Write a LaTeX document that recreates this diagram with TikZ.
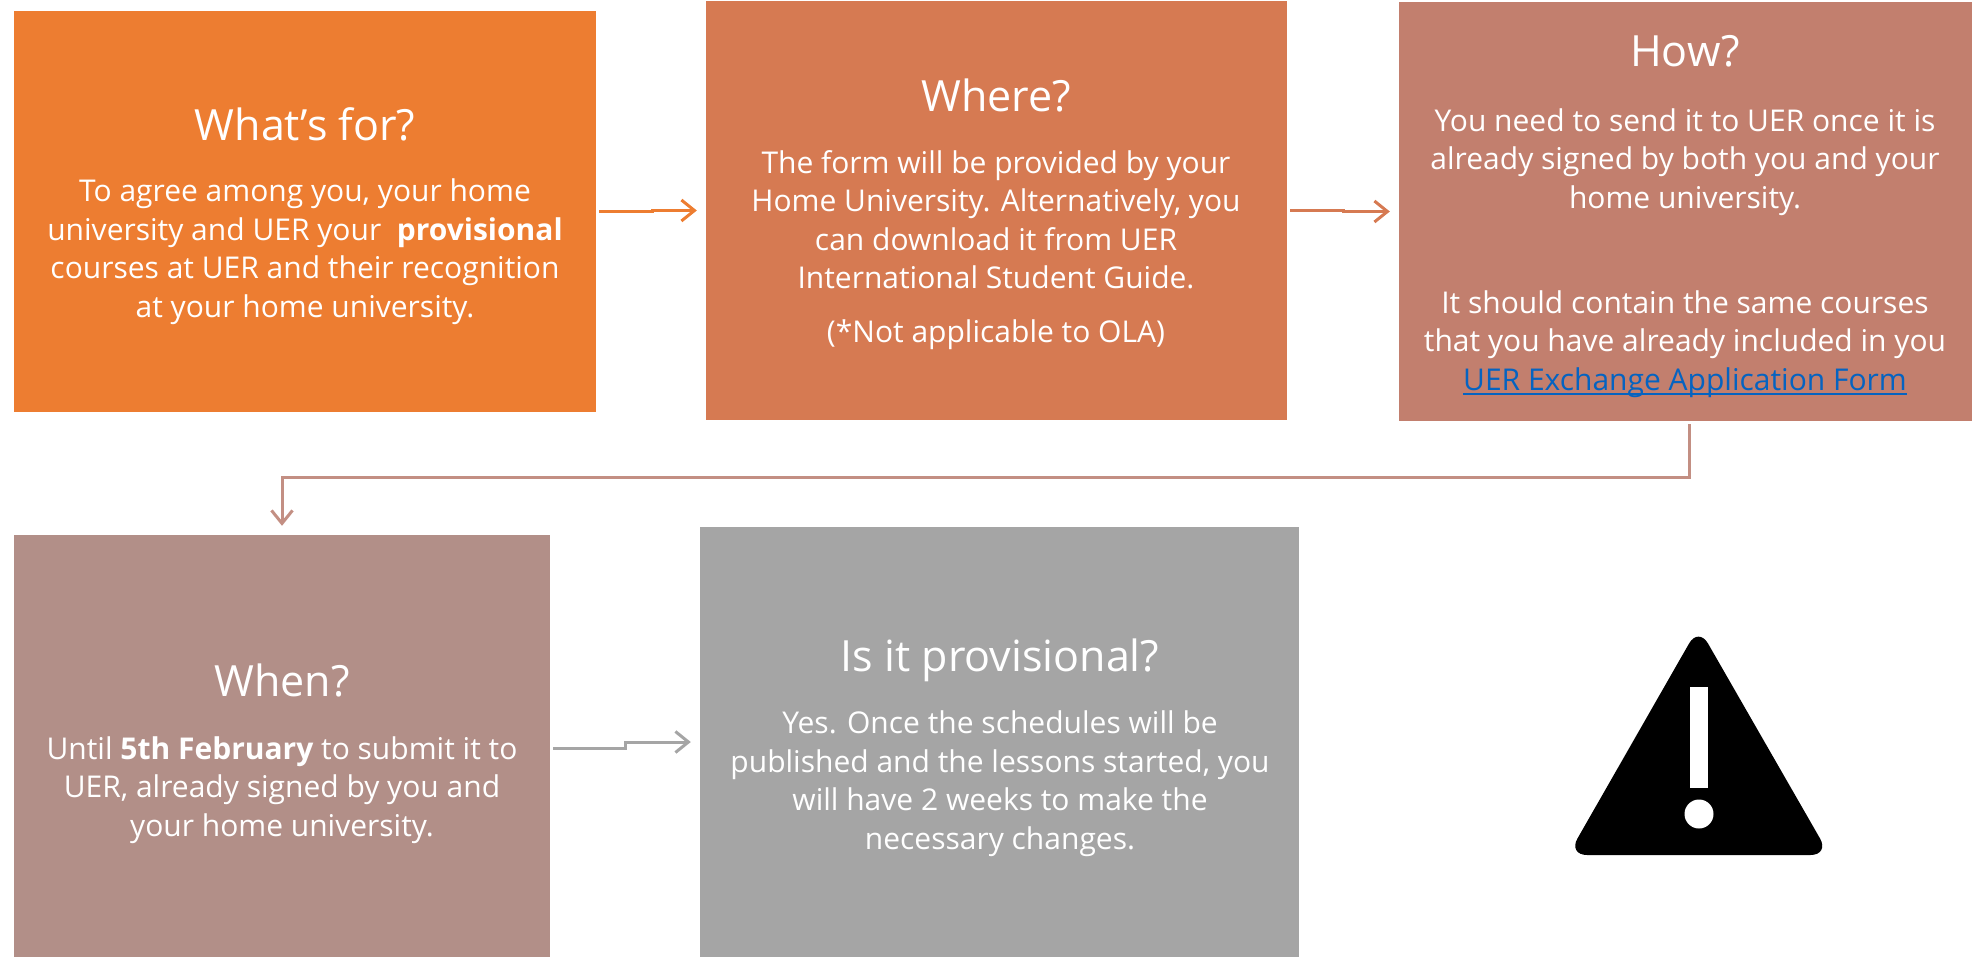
\documentclass[tikz,border=0pt]{standalone}
\usepackage{fontspec}
\usetikzlibrary{arrows.meta}
\setmainfont{Open Sans}
\definecolor{cA}{HTML}{ED7D31}
\definecolor{cB}{HTML}{D67A52}
\definecolor{cC}{HTML}{C27F6E}
\definecolor{cD}{HTML}{B28F88}
\definecolor{cE}{HTML}{A5A5A5}
\definecolor{cArrow}{HTML}{C38F83}
\definecolor{cLink}{HTML}{0563C1}
\newcommand{\ttl}[1]{{\fontsize{43}{46}\selectfont #1}}
\newlength{\lnkw}
\newcommand{\lnk}[1]{\settowidth{\lnkw}{#1}\textcolor{cLink}{\rlap{\rule[-4.5pt]{\lnkw}{2.2pt}}#1}}
\tikzset{
  panel/.style={rectangle,inner sep=0pt,draw=none},
  body/.style={text=white,align=center,inner sep=0pt,font=\fontsize{30}{38.5}\selectfont},
  conn/.style={line width=3pt,-{Straight Barb[length=13pt,width=21pt,line width=3pt]}},
}
\begin{document}
\begin{tikzpicture}[x=1pt,y=-1pt]
\useasboundingbox (0,0) rectangle (1972,957);
\node[panel,fill=cA,minimum width=582pt,minimum height=401pt] (a) at (305,211.5) {};
\node[panel,fill=cB,minimum width=581pt,minimum height=419pt] (b) at (996.5,210.5) {};
\node[panel,fill=cC,minimum width=573pt,minimum height=419pt] (c) at (1685.5,211.5) {};
\node[panel,fill=cD,minimum width=536pt,minimum height=422pt] (d) at (282,746) {};
\node[panel,fill=cE,minimum width=599pt,minimum height=430pt] (e) at (999.5,742) {};

\node[body] (ta) at (305,216) {\ttl{What’s for?}\\[23pt]To agree among you, your home\\university and UER your\ \ \textbf{provisional}\\courses at UER and their recognition\\at your home university.};
\node[body] (tb) at (996,214.5) {\ttl{Where?}\\[23pt]The form will be provided by your\\Home University. Alternatively, you\\can download it from UER\\International Student Guide.\\[15pt](*Not applicable to OLA)};
\node[body] (tc) at (1685,216.5) {\ttl{How?}\\[26pt]You need to send it to UER once it is\\already signed by both you and your\\home university.\\[66.5pt]It should contain the same courses\\that you have already included in you\\\lnk{UER Exchange Application Form}};
\node[body] (td) at (282,754) {\ttl{When?}\\[24pt]Until \textbf{5th February} to submit it to\\UER, already signed by you and\\your home university.};
\node[body] (te) at (1000,748) {\ttl{Is it provisional?}\\[23.5pt]Yes. Once the schedules will be\\published and the lessons started, you\\will have 2 weeks to make the\\necessary changes.};

\draw[conn,cA] ([xshift=3pt]a.east) -- ++(53,0) |- ([xshift=-9pt]b.west);
\draw[conn,cB] ([xshift=3pt]b.east) -- ++(53,0) |- ([xshift=-9pt]c.west);
\draw[conn,cArrow] ([xshift=3.5pt,yshift=-3pt]c.south) |- (282,477) -- ([yshift=9pt]d.north);
\draw[conn,cE] ([xshift=3pt,yshift=-2pt]d.east) -- ++(72,0) |- ([xshift=-9pt]e.west);

\path[fill=black,rounded corners=19pt] (1698.5,627) -- (1829.5,855) -- (1568,855) -- cycle;
\fill[white] (1690,687) rectangle (1708,788);
\fill[white] (1699,814) circle (14.5);
\end{tikzpicture}
\end{document}
